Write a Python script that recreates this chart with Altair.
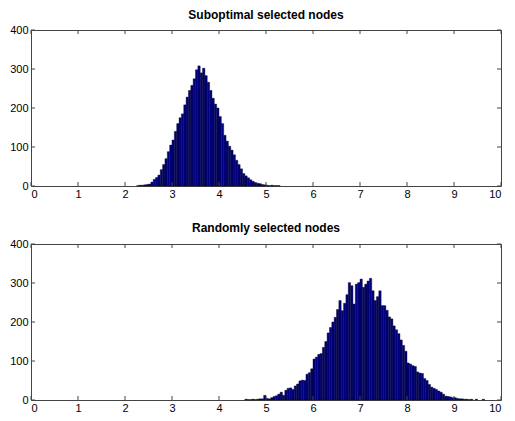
import altair as alt
import pandas as pd

BIN_W = 0.05

# Top histogram: bin centers and counts
top_centers = [2.275, 2.325, 2.375, 2.425, 2.475, 2.525, 2.575, 2.625, 2.675, 2.725,
               2.775, 2.825, 2.875, 2.925, 2.975, 3.025, 3.075, 3.125, 3.175, 3.225,
               3.275, 3.325, 3.375, 3.425, 3.475, 3.525, 3.575, 3.625, 3.675, 3.725,
               3.775, 3.825, 3.875, 3.925, 3.975, 4.025, 4.075, 4.125, 4.175, 4.225,
               4.275, 4.325, 4.375, 4.425, 4.475, 4.525, 4.575, 4.625, 4.675, 4.725,
               4.775, 4.825, 4.875, 4.925, 4.975, 5.025, 5.075, 5.125, 5.175, 5.225, 5.275]
top_counts = [1, 2, 2, 3, 4, 5, 10, 17, 22, 28,
              42, 55, 70, 88, 105, 118, 140, 160, 175, 185,
              208, 228, 245, 258, 275, 298, 308, 290, 302, 283,
              266, 245, 225, 210, 200, 178, 160, 130, 115, 102,
              92, 80, 66, 55, 44, 32, 26, 21, 16, 12,
              9, 7, 6, 4, 3, 2, 1, 2, 1, 1, 1]

# Bottom histogram
bot_centers = [4.575, 4.625, 4.675, 4.725, 4.775, 4.825, 4.875, 4.925, 4.975, 5.025,
               5.075, 5.125, 5.175, 5.225, 5.275, 5.325, 5.375, 5.425, 5.475, 5.525,
               5.575, 5.625, 5.675, 5.725, 5.775, 5.825, 5.875, 5.925, 5.975, 6.025,
               6.075, 6.125, 6.175, 6.225, 6.275, 6.325, 6.375, 6.425, 6.475, 6.525,
               6.575, 6.625, 6.675, 6.725, 6.775, 6.825, 6.875, 6.925, 6.975, 7.025,
               7.075, 7.125, 7.175, 7.225, 7.275, 7.325, 7.375, 7.425, 7.475, 7.525,
               7.575, 7.625, 7.675, 7.725, 7.775, 7.825, 7.875, 7.925, 7.975, 8.025,
               8.075, 8.125, 8.175, 8.225, 8.275, 8.325, 8.375, 8.425, 8.475, 8.525,
               8.575, 8.625, 8.675, 8.725, 8.775, 8.825, 8.875, 8.925, 8.975, 9.025,
               9.075, 9.125, 9.175, 9.225, 9.275, 9.325, 9.375, 9.475, 9.625]
bot_counts = [2, 1, 1, 2, 1, 2, 3, 3, 12, 4,
              3, 6, 9, 11, 15, 20, 12, 25, 30, 31,
              27, 36, 41, 49, 51, 50, 66, 70, 80, 105,
              110, 117, 119, 135, 150, 172, 186, 200, 212, 232,
              255, 229, 248, 270, 301, 293, 246, 297, 301, 310,
              289, 297, 305, 312, 280, 255, 265, 280, 242, 242,
              230, 213, 208, 190, 180, 170, 154, 140, 125, 95,
              92, 88, 86, 72, 69, 68, 55, 50, 40, 33,
              30, 27, 23, 20, 15, 10, 9, 8, 6, 6,
              4, 3, 3, 2, 2, 1, 2, 2, 2]

x_ticks = [0, 1, 2, 3, 4, 5, 6, 7, 8, 9, 10]
y_ticks = [0, 100, 200, 300, 400]

titles = ["Suboptimal selected nodes", "Randomly selected nodes"]

W, H = 470, 156
FONT = "Liberation Sans"
AXIS_COL = "#444444"


def make_df(centers, counts):
    return pd.DataFrame({
        "start": [c - BIN_W / 2 for c in centers],
        "end": [c + BIN_W / 2 for c in centers],
        "count": counts,
    })


def panel(centers, counts, title, offset):
    df = make_df(centers, counts)
    xscale = alt.Scale(domain=[0, 10], nice=False, zero=False)
    yscale = alt.Scale(domain=[0, 400], nice=False)
    xaxis = alt.Axis(values=x_ticks, tickSize=0, domain=False, grid=False,
                     title=None, labelPadding=2, labelFont=FONT,
                     labelFontSize=11, labelColor="#000000",
                     labelOverlap=False)
    yaxis = alt.Axis(values=y_ticks, tickSize=0, domain=False, grid=False,
                     title=None, labelPadding=3, labelFont=FONT,
                     labelFontSize=11, labelColor="#000000",
                     labelOverlap=False, labelBound=False)
    bars = alt.Chart(df).mark_bar(
        color="#00007F", stroke="#000022", strokeWidth=0.4
    ).encode(
        x=alt.X("start:Q", scale=xscale, axis=xaxis),
        x2="end:Q",
        y=alt.Y("count:Q", scale=yscale, axis=yaxis),
        y2=alt.datum(0),
    )
    xt = pd.DataFrame({"v": x_ticks})
    yt = pd.DataFrame({"v": y_ticks})
    xb = alt.Chart(xt).mark_rule(color=AXIS_COL, strokeWidth=1).encode(
        x=alt.X("v:Q", scale=xscale, axis=xaxis), y=alt.value(H - 4), y2=alt.value(H))
    xtop = alt.Chart(xt).mark_rule(color=AXIS_COL, strokeWidth=1).encode(
        x=alt.X("v:Q", scale=xscale, axis=xaxis), y=alt.value(0), y2=alt.value(4))
    yl = alt.Chart(yt).mark_rule(color=AXIS_COL, strokeWidth=1).encode(
        y=alt.Y("v:Q", scale=yscale, axis=yaxis), x=alt.value(0), x2=alt.value(4))
    yr = alt.Chart(yt).mark_rule(color=AXIS_COL, strokeWidth=1).encode(
        y=alt.Y("v:Q", scale=yscale, axis=yaxis), x=alt.value(W - 4), x2=alt.value(W))
    return alt.layer(bars, xb, xtop, yl, yr).properties(
        width=W, height=H,
        title=alt.TitleParams(title, font=FONT, fontSize=12, fontWeight="bold",
                              color="#000000", offset=offset),
    )


chart = alt.vconcat(
    panel(top_centers, top_counts, titles[0], 2),
    panel(bot_centers, bot_counts, titles[1], 3),
    spacing=21,
).properties(
    padding={"left": 1, "top": 0, "right": 0, "bottom": 0},
    background="white",
).configure_view(
    stroke=AXIS_COL, strokeWidth=1
)

chart.save("out.html", embed_options={"renderer": "svg", "actions": False})
